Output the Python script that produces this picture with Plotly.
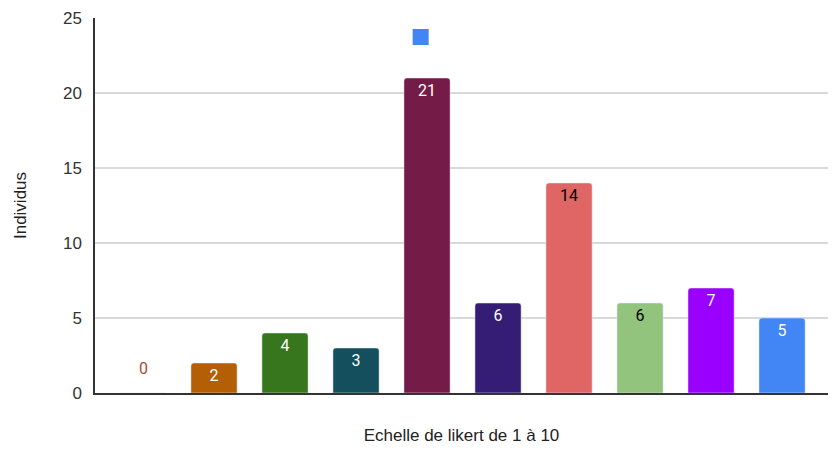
import plotly.graph_objects as go

categories = ["1", "2", "3", "4", "5", "6", "7", "8", "9", "10"]
values = [0, 2, 4, 3, 21, 6, 14, 6, 7, 5]
bar_colors = ["#b4473a", "#b45f06", "#38761d", "#134f5c", "#741b47",
              "#351c75", "#e06666", "#93c47d", "#9900ff", "#4285f4"]
label_colors = ["#b04a30", "white", "white", "white", "white",
                "white", "black", "black", "white", "white"]
y_ticks = [0, 5, 10, 15, 20, 25]
x_title = "Echelle de likert de 1 à 10"
y_title = "Individus"
legend_color = "#4285f4"

fig = go.Figure()
fig.add_trace(go.Bar(
    x=categories, y=values,
    marker=dict(color=bar_colors, cornerradius=3),
    text=[str(v) if v > 0 else "" for v in values],
    textposition="inside", insidetextanchor="end",
    textfont=dict(family="Roboto", size=16, color=label_colors),
    textangle=0,
    width=0.65,
    showlegend=False,
    hoverinfo="skip",
))
# legend-only entry (blue square, no text)
fig.add_trace(go.Scatter(
    x=[None], y=[None], mode="markers", name="",
    marker=dict(symbol="square", size=16, color=legend_color),
    showlegend=True,
))
# label for zero-valued bar
for i, (v, col) in enumerate(zip(values, label_colors)):
    if v == 0:
        fig.add_annotation(x=i, y=v, text=str(v), showarrow=False, yshift=25,
                           font=dict(family="Roboto", size=16, color=col))

fig.update_layout(
    width=832, height=455,
    margin=dict(l=95, r=4, t=18, b=62),
    paper_bgcolor="white", plot_bgcolor="white",
    font=dict(family="Liberation Sans, Arial", size=17, color="#333333"),
    legend=dict(x=0.417, y=0.988, xanchor="left", yanchor="top",
                bgcolor="rgba(0,0,0,0)", font=dict(size=1)),
    xaxis=dict(type="category", range=[-0.676, 9.647], showticklabels=False, ticks="",
               showgrid=False, showline=True, linecolor="#333333", linewidth=1.5,
               automargin=False,
               title=dict(text=x_title, font=dict(size=17, color="#222222"), standoff=35)),
    yaxis=dict(range=[0, 25], tickvals=y_ticks, showgrid=True, gridcolor="#d9d9d9",
               gridwidth=1.5, showline=True, linecolor="#333333", linewidth=1.5,
               zeroline=False, ticks="", ticklabelstandoff=8, automargin=False,
               tickfont=dict(size=17, color="#333333"),
               title=dict(text=y_title, font=dict(size=17, color="#222222"), standoff=32)),
    bargap=0.35,
)

fig.write_html("out.html", config={"displayModeBar": False},
               post_script="document.body.style.margin='0';")
